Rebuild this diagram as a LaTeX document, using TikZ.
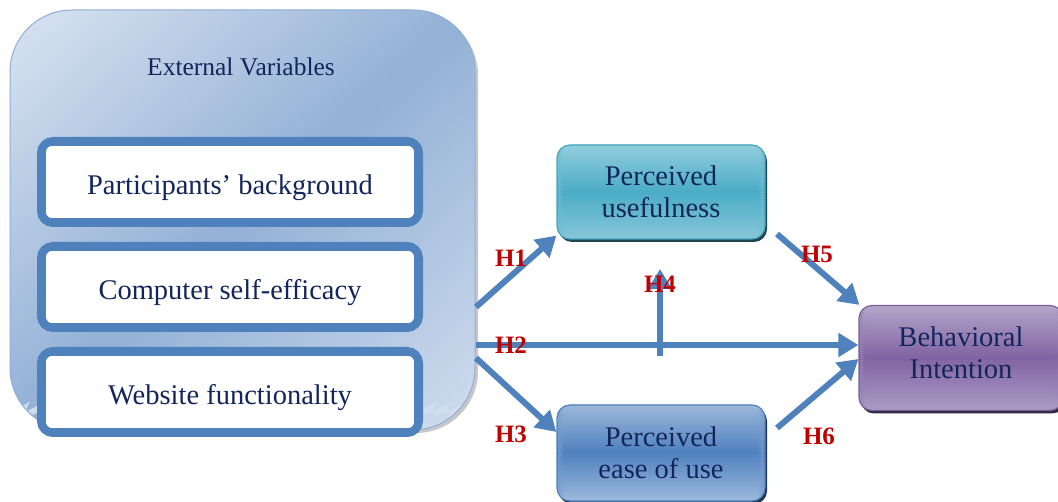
\documentclass[tikz,border=0pt]{standalone}
\usepackage{fontspec}
\setmainfont{Liberation Serif}
\usetikzlibrary{arrows.meta,shadows,calc}
\definecolor{arrowblue}{HTML}{4F81BD}
\definecolor{navy}{HTML}{13265C}
\definecolor{hred}{HTML}{C00000}
\definecolor{extlight}{HTML}{DAE4F1}
\definecolor{extdark}{HTML}{93B1D6}
\definecolor{extlight2}{HTML}{D0DDEE}
\definecolor{extborder}{HTML}{8FAED6}
\definecolor{tealL}{HTML}{93CEDD}
\definecolor{tealD}{HTML}{4BACC6}
\definecolor{tealL2}{HTML}{86C7D8}
\definecolor{tealB}{HTML}{46A5BF}
\definecolor{blueL}{HTML}{9DB9DC}
\definecolor{blueD}{HTML}{4F81BD}
\definecolor{purL}{HTML}{B5A5CA}
\definecolor{purD}{HTML}{8064A2}
\definecolor{purL2}{HTML}{AC9BC5}
\definecolor{purB}{HTML}{7A5E9C}
\begin{document}
\begin{tikzpicture}[x=1pt,y=-1pt,
  vgrad/.style n args={3}{fill=#1!50!#2, path picture={
    \foreach \i in {0,...,47}{
      \pgfmathsetmacro\glo{\i/48}
      \pgfmathsetmacro\ghi{(\i+1.4)/48}
      \pgfmathsetmacro\gm{100*abs(1-2*(\i+0.5)/48)}
      \ifnum\i<24 \colorlet{gcol}{#1!\gm!#2}\else\colorlet{gcol}{#3!\gm!#2}\fi
      \fill[gcol] ($(path picture bounding box.north west)!\glo!(path picture bounding box.south west)+(-5,0)$)
        rectangle ($(path picture bounding box.north east)!\ghi!(path picture bounding box.south east)+(5,0)$);
    }}},
  innerbox/.style={draw=arrowblue, line width=8pt, fill=white, rounded corners=12pt,
    minimum width=378pt, minimum height=82pt, inner sep=0pt, text height=26pt, text depth=0pt,
    font=\fontsize{28.5}{34}\selectfont, text=navy},
  cbox/.style={rounded corners=13pt, minimum width=208pt, inner sep=0pt, align=center,
    font=\fontsize{28.5}{32}\selectfont, text=navy, line width=1.2pt},
  arr/.style={draw=arrowblue, line width=6pt, -{Triangle[length=20pt,width=23pt]}},
  hlabel/.style={font=\fontsize{25}{25}\bfseries\selectfont, text=hred, inner sep=0pt}]
\useasboundingbox (0,0) rectangle (1058,502);
% external box
\fill[black!22, rounded corners=62pt] (13,13) rectangle (478,433);
\node[draw=extborder, line width=1pt, fill=extlight2, rounded corners=62pt, minimum width=465pt, minimum height=420pt,
  path picture={
    \coordinate (gnw) at (path picture bounding box.north west);
    \foreach \i in {0,...,63}{
      \pgfmathsetmacro\gs{2*\i/64}
      \pgfmathsetmacro\gt{2*(\i+1.4)/64}
      \pgfmathsetmacro\gc{2*(\i+0.5)/64}
      \pgfmathsetmacro\gm{100*abs(1-\gc)}
      \ifnum\i<32 \colorlet{gcol}{extlight!\gm!extdark}\else\colorlet{gcol}{extlight2!\gm!extdark}\fi
      \fill[gcol] ($(gnw)+({465*(\gs+1)},-420)$) -- ($(gnw)+({465*(\gs-1)},420)$)
        -- ($(gnw)+({465*(\gt-1)},420)$) -- ($(gnw)+({465*(\gt+1)},-420)$) -- cycle;
    }}] (ext) at (242.5,220) {};
\node[font=\fontsize{25.5}{30}\selectfont, text=navy] (extlabel) at (241,67) {External Variables};
% inner boxes
\node[innerbox] (b1) at (230,182) {Participants’ background};
\node[innerbox] (b2) at (230,287) {Computer self-efficacy};
\node[innerbox] (b3) at (230,392) {Website functionality};
\foreach \b in {b1,b2,b3}
  \draw[arrowblue, line width=1.6pt, rounded corners=7pt] ([shift={(8,8)}]\b.north west) rectangle ([shift={(-8,-8)}]\b.south east);
% constructs
\node[cbox, minimum height=94pt, draw=tealB, vgrad={tealL}{tealD}{tealL2},
  drop shadow={shadow xshift=2pt, shadow yshift=-3pt, fill=tealD!40!black, opacity=1}] (pu) at (661,192) {Perceived\\usefulness};
\node[cbox, minimum height=96pt, draw=blueD, vgrad={blueL}{blueD}{blueL},
  drop shadow={shadow xshift=2pt, shadow yshift=-3pt, fill=blueD!40!black, opacity=1}] (pe) at (661,453) {Perceived\\ease of use};
\node[cbox, minimum width=204pt, minimum height=105pt, draw=purB, vgrad={purL}{purD}{purL2},
  drop shadow={shadow xshift=2pt, shadow yshift=-3pt, fill=purD!40!black, opacity=1}] (bi) at (961,358) {};
\node[font=\fontsize{28.5}{32}\selectfont, text=navy, align=center, inner sep=0pt] (bitext) at (961,353) {Behavioral\\Intention};
% connector end points
\coordinate (s1) at (476,307);
\coordinate (s2) at (476,345);
\coordinate (s3) at (476,358);
\coordinate (h4a) at (660,356);
\coordinate (h4b) at (660,269);
\coordinate (s5) at (777,234);
\coordinate (s6) at (777,428);
% arrows
\draw[arr] (s1) -- ([yshift=4pt]pu.south west);
\draw[arr] (s2) -- (bi.west |- s2);
\draw[arr] (s3) -- ([yshift=21pt]pe.west);
\draw[arr] (h4a) -- (h4b);
\draw[arr] (s5) -- ([xshift=1pt]bi.north west);
\draw[arr] (s6) -- ([yshift=-1pt]bi.west);
% labels
\node[hlabel] (l1) at (511,258) {H1};
\node[hlabel] (l2) at (511,345) {H2};
\node[hlabel] (l3) at (511,434) {H3};
\node[hlabel] (l4) at (660,284) {H4};
\node[hlabel] (l5) at (817,254) {H5};
\node[hlabel] (l6) at (819,436) {H6};
\end{tikzpicture}
\end{document}
